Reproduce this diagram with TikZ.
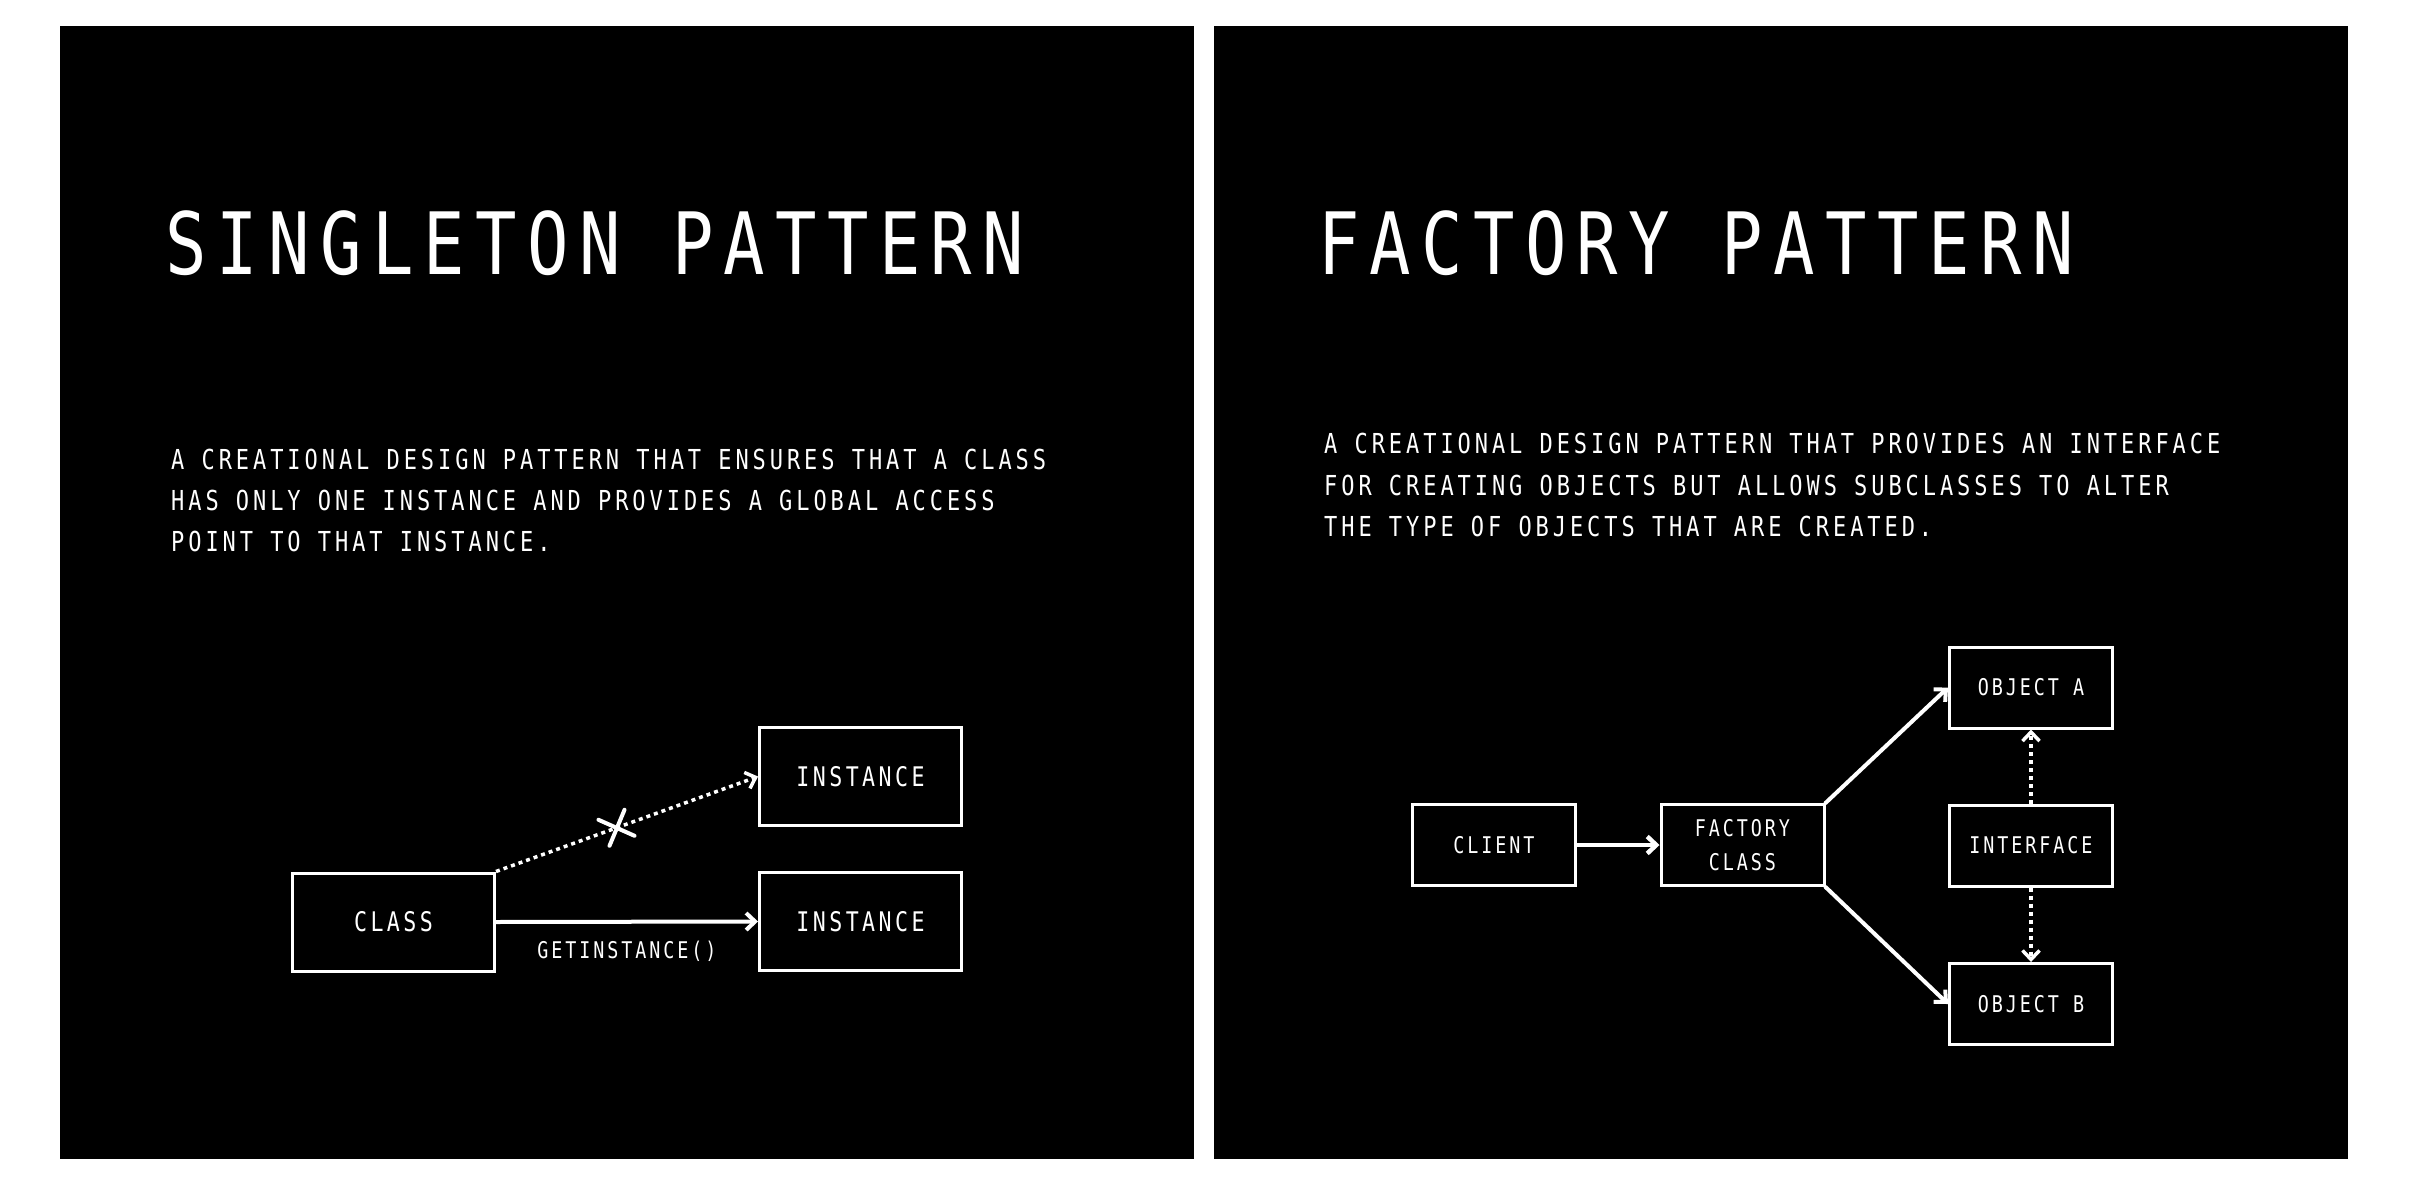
\documentclass[tikz,border=0pt]{standalone}
\usepackage{fontspec}
\setmonofont{DejaVu Sans Mono}
\newfontfamily\ptitlefont[FakeStretch=0.8,LetterSpace=12]{DejaVu Sans Mono}
\newfontfamily\pparafont[FakeStretch=0.8,LetterSpace=14.3]{DejaVu Sans Mono}
\newfontfamily\pbodyfont[FakeStretch=0.8,LetterSpace=12.7]{DejaVu Sans Mono}
\usetikzlibrary{arrows.meta}
\begin{document}
\begin{tikzpicture}[x=1pt,y=-1pt,
  panel/.style={fill=black,draw=none},
  titletext/.style={anchor=base west,inner sep=0pt,text=white,font=\ptitlefont\fontsize{86}{100}\selectfont},
  bodytext/.style={anchor=base west,inner sep=0pt,text=white,font=\pparafont\fontsize{27.5}{33}\selectfont},
  bigbox/.style={draw=white,line width=3pt,minimum width=202pt,minimum height=98pt,inner sep=0pt,text=white,font=\pbodyfont\fontsize{27}{32}\selectfont},
  smallbox/.style={draw=white,line width=3pt,minimum width=163pt,minimum height=81pt,inner sep=0pt,text=white,align=center,font=\pbodyfont\fontsize{23}{34}\selectfont},
  smalltext/.style={inner sep=0pt,text=white,font=\pbodyfont\fontsize{23}{28}\selectfont},
  tip/.style={-{Straight Barb[length=9pt,width=17pt]}},
  conn/.style={draw=white,line width=4pt,line cap=round,line join=round,tip},
  dotconn/.style={draw=white,line width=3.5pt,dash pattern=on 4pt off 4pt,line join=round,tip}
]
\useasboundingbox (0,0) rectangle (2414,1182);
\fill[white] (0,0) rectangle (2414,1182);
\fill[panel] (60,26) rectangle (1194,1159);
\fill[panel] (1214,26) rectangle (2348,1159);

% ---------- left panel ----------
\node[titletext] (t1) at (165,275) {SINGLETON PATTERN};
\node[bodytext] (b1a) at (171,469) {A CREATIONAL DESIGN PATTERN THAT ENSURES THAT A CLASS};
\node[bodytext] (b1b) at (171,510) {HAS ONLY ONE INSTANCE AND PROVIDES A GLOBAL ACCESS};
\node[bodytext] (b1c) at (171,551) {POINT TO THAT INSTANCE.};

\node[bigbox] (cls) at (393.5,922) {CLASS};
\node[bigbox] (inst1) at (860.5,776.5) {INSTANCE};
\node[bigbox] (inst2) at (860.5,921.5) {INSTANCE};

\draw[dotconn] (cls.north east) -- coordinate[pos=0.46] (xm) (inst1.west);
\draw[white,line width=4pt,line cap=round] ([shift={(-18,-8)}]xm) -- ([shift={(18,8)}]xm);
\draw[white,line width=4pt,line cap=round] ([shift={(8,-18)}]xm) -- ([shift={(-7,18)}]xm);
\draw[conn] (cls.east) -- (inst2.west);
\node[smalltext,anchor=base] (gi) at (627,958) {GETINSTANCE()};

% ---------- right panel ----------
\node[titletext] (t2) at (1318,275) {FACTORY PATTERN};
\node[bodytext] (b2a) at (1324,453) {A CREATIONAL DESIGN PATTERN THAT PROVIDES AN INTERFACE};
\node[bodytext] (b2b) at (1324,495) {FOR CREATING OBJECTS BUT ALLOWS SUBCLASSES TO ALTER};
\node[bodytext] (b2c) at (1324,536) {THE TYPE OF OBJECTS THAT ARE CREATED.};

\node[smallbox] (client) at (1494,845) {CLIENT};
\node[smallbox] (factory) at (1742.5,845) {FACTORY\\CLASS};
\node[smallbox] (oa) at (2031,687.5) {OBJECT A};
\node[smallbox] (iface) at (2031,845.5) {INTERFACE};
\node[smallbox] (ob) at (2031,1004) {OBJECT B};

\draw[conn,line width=4.5pt] (client.east) -- (factory.west);
\draw[conn] (factory.north east) -- (oa.west);
\draw[conn] (factory.south east) -- (ob.west);
\draw[dotconn] (iface.north) -- (oa.south);
\draw[dotconn] (iface.south) -- (ob.north);
\end{tikzpicture}
\end{document}
